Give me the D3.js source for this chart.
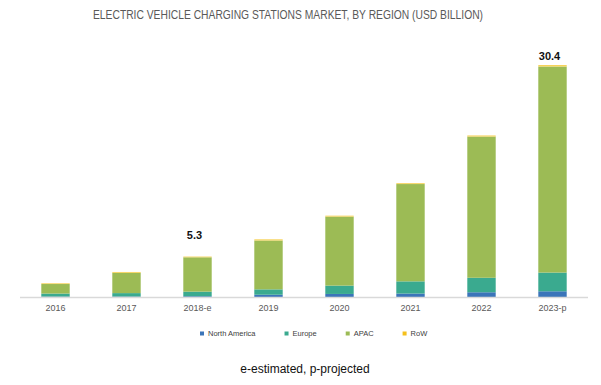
<!DOCTYPE html>
<html>
<head>
<meta charset="utf-8">
<script src="https://cdnjs.cloudflare.com/ajax/libs/d3/7.8.5/d3.min.js"></script>
<style>
  body { margin: 0; background: #fff; }
  text { font-family: "Liberation Sans", Arial, sans-serif; }
</style>
</head>
<body>
<svg id="chart" width="601" height="385"></svg>
<script>
// data
var years = ["2016", "2017", "2018-e", "2019", "2020", "2021", "2022", "2023-p"];
var regions = ["North America", "Europe", "APAC", "RoW"];
var northAmerica = [0.05, 0.06, 0.1, 0.3, 0.4, 0.45, 0.62, 0.75];
var europe = [0.4, 0.45, 0.6, 0.7, 1.09, 1.6, 1.9, 2.45];
var apac = [1.25, 2.65, 4.5, 6.4, 9.04, 12.75, 18.5, 27.0];
var row = [0.1, 0.12, 0.1, 0.16, 0.13, 0.12, 0.15, 0.2];
var totalLabels = ["", "", "5.3", "", "", "", "", "30.4"];
var colors = ["#3b75b9", "#3aaa8f", "#9cbb55", "#f5c01c"];

var svg = d3.select("#chart");

// rows for the stack
var table = years.map(function(y, i) {
  return { year: y, "North America": northAmerica[i], "Europe": europe[i], "APAC": apac[i], "RoW": row[i] };
});
var series = d3.stack().keys(regions)(table);

var x = d3.scaleBand().domain(years).range([20, 588]).paddingInner(0.6).paddingOuter(0.3);
var y = d3.scaleLinear().domain([0, 30.4]).range([297, 65]);
var color = d3.scaleOrdinal().domain(regions).range(colors);

// title
svg.append("text")
  .attr("x", 288).attr("y", 19)
  .attr("text-anchor", "middle")
  .attr("font-size", 12)
  .attr("fill", "#595959")
  .attr("textLength", 390)
  .attr("lengthAdjust", "spacingAndGlyphs")
  .text("ELECTRIC VEHICLE CHARGING STATIONS MARKET, BY REGION (USD BILLION)");

// bars
svg.append("g").selectAll("g")
  .data(series)
  .join("g")
  .attr("fill", function(d) { return d.key == "RoW" ? "#f6d35a" : color(d.key); })
  .selectAll("rect")
  .data(function(d) { return d; })
  .join("rect")
  .attr("x", function(d) { return x(d.data.year); })
  .attr("y", function(d) { return y(d[1]); })
  .attr("width", x.bandwidth())
  .attr("height", function(d) { return y(d[0]) - y(d[1]); });

// x axis
var xAxis = svg.append("g")
  .attr("transform", "translate(0,297)")
  .call(d3.axisBottom(x).tickSize(0).tickPadding(8));
xAxis.select(".domain").attr("stroke", "#d9d9d9").attr("stroke-width", 1.5).attr("d", "M20,0.5H588");
xAxis.selectAll("text")
  .attr("font-size", 9)
  .attr("fill", "#595959")
  .attr("font-family", "Liberation Sans, Arial, sans-serif");

// total labels (the last one sits close to its bar)
svg.append("g").selectAll("text")
  .data(years)
  .join("text")
  .attr("x", function(d) { return x(d) + x.bandwidth() / 2 - 3; })
  .attr("y", function(d, i) { return y(series[3][i][1]) - (i == years.length - 1 ? 5 : 18); })
  .attr("text-anchor", "middle")
  .attr("font-size", 11)
  .attr("font-weight", "bold")
  .attr("fill", "#111")
  .text(function(d, i) { return totalLabels[i]; });

// legend
var legend = svg.append("g");
var lx = 200;
regions.forEach(function(r, i) {
  legend.append("rect")
    .attr("x", lx).attr("y", 331.5)
    .attr("width", 4).attr("height", 4)
    .attr("fill", colors[i]);
  var t = legend.append("text")
    .attr("x", lx + 8).attr("y", 336)
    .attr("font-size", 7.5)
    .attr("fill", "#404040")
    .text(r);
  lx += 8 + t.node().getComputedTextLength() + 29;
});

// footnote
svg.append("text")
  .attr("x", 305).attr("y", 373)
  .attr("text-anchor", "middle")
  .attr("font-size", 12)
  .attr("fill", "#111")
  .text("e-estimated, p-projected");
</script>
</body>
</html>
